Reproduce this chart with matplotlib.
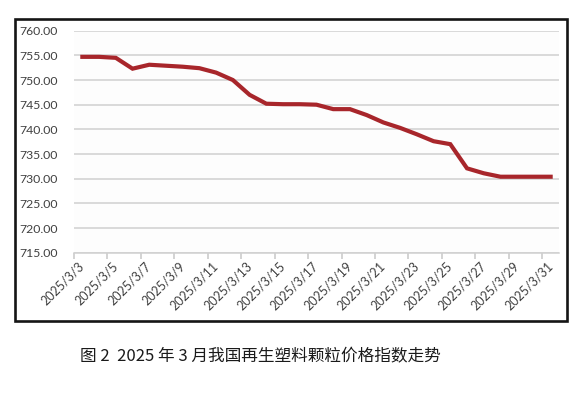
import matplotlib
matplotlib.use('Agg')
import matplotlib.pyplot as plt
from matplotlib.patches import Rectangle

# 2025年3月 再生塑料颗粒价格指数（日度）
days = list(range(3, 32))
dates = ['2025/3/%d' % d for d in days]
index_vals = [754.7, 754.7, 754.5, 752.3, 753.1, 752.9, 752.7, 752.4, 751.5, 750.0,
              747.0, 745.2, 745.1, 745.1, 745.0, 744.1, 744.1, 742.9, 741.4, 740.3,
              739.0, 737.6, 737.0, 732.1, 731.1, 730.4, 730.4, 730.4, 730.4]
yticks = [715, 720, 725, 730, 735, 740, 745, 750, 755, 760]
caption = '图 2  2025 年 3 月我国再生塑料颗粒价格指数走势'

plt.rcParams['font.family'] = ['Lato', 'DejaVu Sans']

fig = plt.figure(figsize=(5.86, 3.96), dpi=100)
ax = fig.add_axes([74/586, 1-252.7/396, (559-74)/586, (252.7-30.7)/396])
ax.set_facecolor('#fdfdfd')

x = list(range(len(index_vals)))
ax.plot(x, index_vals, color='#a8262b', lw=3.0, solid_joinstyle='miter', zorder=3)

ax.set_xlim(-0.5, len(index_vals) - 0.5)
ax.set_ylim(715, 760)
ax.set_yticks(yticks)
ax.set_yticklabels(['%.2f' % v for v in yticks], fontsize=8.8, color='#404040')
ax.tick_params(axis='y', length=0, pad=11.5)
ax.grid(axis='y', color='#d0d0d0', lw=1.1)
ax.set_axisbelow(True)

# 刻度线在类别边界，标签在类别中心
ax.set_xticks([i - 0.5 for i in range(0, len(index_vals), 2)])
ax.set_xticklabels([])
ax.tick_params(axis='x', which='major', length=4, color='#c8c8c8', width=1.1)
ax.set_xticks(x[::2], minor=True)
ax.set_xticklabels(dates[::2], minor=True, rotation=45, ha='right', va='center',
                   rotation_mode='anchor', fontsize=9, color='#404040')
ax.tick_params(axis='x', which='minor', length=0, pad=8)

for s in ['left', 'right', 'top']:
    ax.spines[s].set_visible(False)
ax.spines['bottom'].set_color('#d0d0d0')
ax.spines['bottom'].set_linewidth(1.1)

# 外框
fig.patches.append(Rectangle((15/586, 1-321/396), (567-15)/586, (321-19)/396,
                             transform=fig.transFigure, fill=False,
                             edgecolor='#151515', lw=1.9))

fig.text(260/586, 1-357/396, caption, ha='center', va='center', fontsize=12,
         family=['Noto Sans CJK SC', 'DejaVu Sans'], color='#1a1a1a')

fig.savefig('out.png', dpi=100, facecolor='white')
